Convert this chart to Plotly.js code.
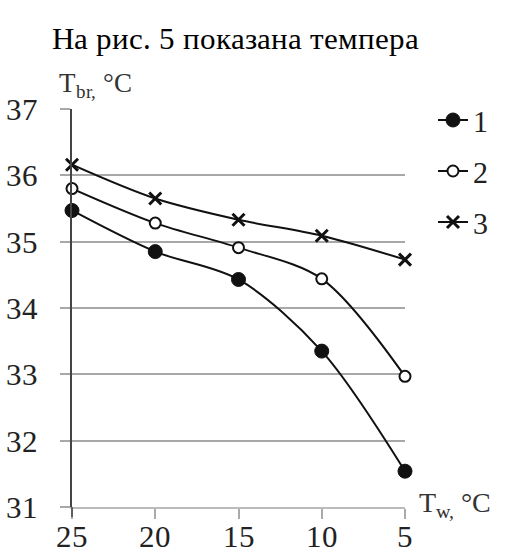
<!DOCTYPE html>
<html><head><meta charset="utf-8">
<script src="https://cdn.plot.ly/plotly-3.0.1.min.js"></script>
<style>
@font-face { font-family: 'RefSerif'; src: local('Liberation Serif'), local('LiberationSerif'), local('LiberationSerif-Regular'), local('Times New Roman'); }
html, body { margin: 0; padding: 0; background: #fff; }
#chart text { font-family: 'RefSerif', 'Liberation Serif', 'Times New Roman', serif !important; }
</style>
</head><body>
<div id="chart" style="width:505px;height:547px"></div>
<script>
const tw = [25, 20, 15, 10, 5];
const series1 = [35.47, 34.85, 34.43, 33.35, 31.54];
const series2 = [35.80, 35.28, 34.91, 34.44, 32.97];
const series3 = [36.16, 35.65, 35.33, 35.09, 34.73];
const seriesNames = ['1', '2', '3'];
const yTicks = [31, 32, 33, 34, 35, 36, 37];
const xTicks = [25, 20, 15, 10, 5];

const W = 505, H = 547, L = 72, R = 405, T = 109, B = 507;
const px = x => (x - L) / (R - L);
const py = y => (B - y) / (B - T);
const FONT = 'Liberation Serif';

const mk = (y, name, sym, msize, mline, fill) => ({
  x: tw, y: y, name: name, type: 'scatter', mode: 'lines+markers',
  line: {color: '#111', width: 2, shape: 'spline', smoothing: 0.9},
  marker: {symbol: sym, size: msize, color: fill, line: {color: '#111', width: mline}},
  cliponaxis: false, legendgroup: name
});
const data = [
  mk(series1, seriesNames[0], 'circle', 14, 1, '#111'),
  mk(series2, seriesNames[1], 'circle', 11, 2, '#fff'),
  mk(series3, seriesNames[2], 'x-thin-open', 12, 3, '#111')
];

const layout = {
  width: W, height: H,
  margin: {l: L, r: W - R, t: T, b: H - B, pad: 0},
  paper_bgcolor: '#fff', plot_bgcolor: '#fff',
  showlegend: true,
  legend: {x: px(433), y: py(94), xanchor: 'left', yanchor: 'top',
           font: {family: FONT, size: 30, color: '#222'},
           traceorder: 'grouped', tracegroupgap: 9, bgcolor: 'rgba(0,0,0,0)'},
  xaxis: {range: [25, 5], tickvals: xTicks, ticktext: xTicks.map(String),
          showgrid: false, zeroline: false, showline: true, linecolor: '#bbb', linewidth: 2,
          ticks: 'outside', ticklen: 10, tickcolor: '#aaa', tickwidth: 1.5,
          tickfont: {family: FONT, size: 31, color: '#222'}, ticklabelstandoff: -9},
  yaxis: {range: [31, 37], tickvals: yTicks, ticktext: yTicks.map(String),
          showgrid: true, gridcolor: '#a8a8a8', gridwidth: 1.5, zeroline: false,
          showline: true, linecolor: '#444', linewidth: 1.5,
          ticks: 'outside', ticklen: 10, tickcolor: '#a8a8a8', tickwidth: 1.5,
          tickfont: {family: FONT, size: 31, color: '#222'}, ticklabelstandoff: 16},
  shapes: [
    {type: 'line', xref: 'paper', yref: 'paper', x0: 0, x1: 0, y0: 0, y1: py(517),
     line: {color: '#444', width: 1.5}}
  ],
  annotations: [
    {text: 'На рис. 5 показана темпера', xref: 'paper', yref: 'paper', x: px(54), y: py(58),
     xanchor: 'left', yanchor: 'bottom', showarrow: false,
     font: {family: FONT, size: 31, color: '#000'}},
    {text: 'T<sub>br,</sub> °C', xref: 'paper', yref: 'paper', x: px(58), y: py(104),
     xanchor: 'left', yanchor: 'bottom', showarrow: false,
     font: {family: FONT, size: 27, color: '#333'}},
    {text: 'T<sub>w,</sub> °C', xref: 'paper', yref: 'paper', x: px(417), y: py(524),
     xanchor: 'left', yanchor: 'bottom', showarrow: false,
     font: {family: FONT, size: 28, color: '#333'}}
  ]
};
Plotly.newPlot('chart', data, layout, {displayModeBar: false});
</script></body></html>
